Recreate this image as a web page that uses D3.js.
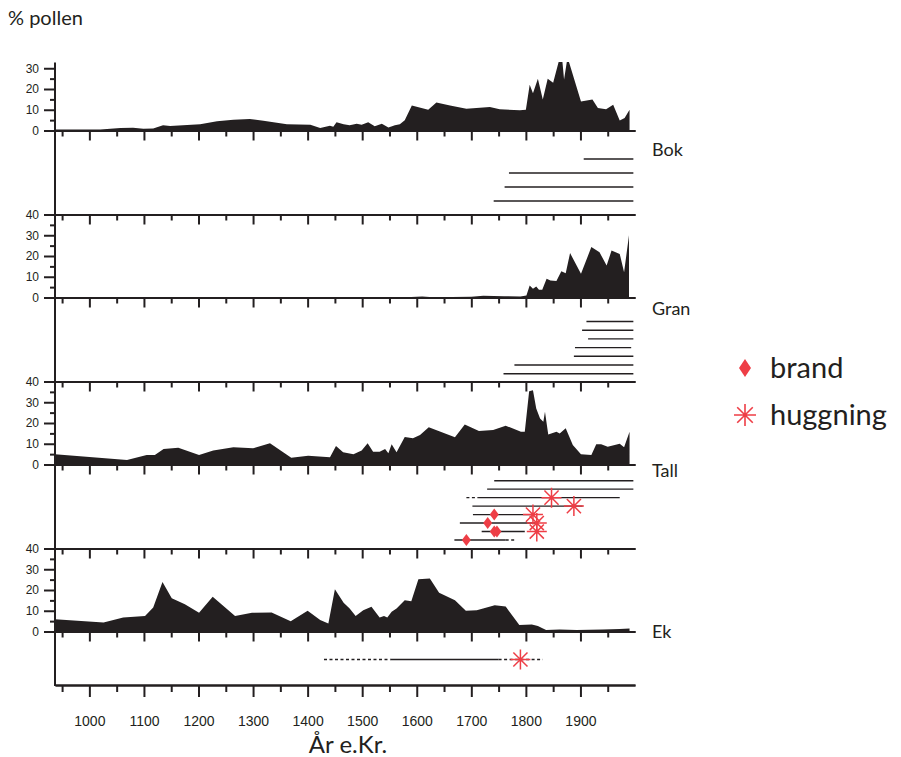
<!DOCTYPE html>
<html lang="sv">
<head>
<meta charset="UTF-8">
<title>Pollen och händelser</title>
<script src="https://d3js.org/d3.v7.min.js"></script>
<style>
  html, body { margin: 0; padding: 0; background: #fff; }
  svg { display: block; font-family: Lato, "Open Sans", sans-serif; }
  .axis path, .axis line { stroke: #231f20; stroke-width: 2; }
  .axis text { fill: #231f20; }
</style>
</head>
<body>
<svg id="chart" width="901" height="757"></svg>
<script>
// pollenkurvor: [år, procent]
const bokPollen = [[937,0.5],[1020,0.5],[1057,1.2],[1080,1.3],[1099,0.8],[1117,1],[1135,2.5],[1148,2.2],[1203,3],[1234,4.5],[1264,5.2],[1294,5.5],[1319,4.7],[1362,3],[1405,2.8],[1423,1.2],[1441,2.3],[1447,1.8],[1453,4],[1466,3],[1477,2.5],[1490,3.3],[1499,2.8],[1511,4],[1523,2],[1536,3.3],[1548,1.5],[1560,2.5],[1569,3],[1578,5],[1591,12],[1621,10],[1636,13.5],[1661,12],[1691,10.5],[1734,11.3],[1752,10.3],[1789,9.7],[1800,10],[1807,22],[1813,18],[1822,25],[1831,15],[1840,25],[1850,23],[1860,33],[1867,33],[1870,24.6],[1875,33],[1879,33],[1901,14],[1922,15],[1932,10.8],[1947,10.3],[1960,12.4],[1972,4.8],[1981,6],[1990,10]];
const granPollen = [[937,0],[1100,0.1],[1250,0.3],[1290,0.3],[1330,0.1],[1590,0.2],[1610,0.5],[1630,0.1],[1700,0.4],[1722,0.8],[1760,0.6],[1790,0.5],[1801,1],[1807,5.8],[1813,4.2],[1819,5.3],[1824,3.7],[1830,3.7],[1838,9],[1845,8.2],[1856,8],[1865,12.7],[1873,11.7],[1881,21.4],[1901,11.4],[1920,24.3],[1935,21.8],[1948,15.4],[1957,22.6],[1972,21],[1980,12.2],[1989,30]];
const tallPollen = [[937,5],[1069,2.2],[1105,4.6],[1120,4.6],[1136,7.5],[1163,8.1],[1201,4.6],[1227,6.8],[1264,8.3],[1300,7.8],[1331,10.2],[1370,3.3],[1401,4.2],[1441,3.5],[1452,8.9],[1465,5.9],[1484,4.9],[1499,6.8],[1510,10.2],[1520,6.2],[1532,6.2],[1542,7.5],[1548,5.4],[1554,9.7],[1563,5.9],[1578,13.2],[1593,12.6],[1606,14.2],[1622,17.9],[1646,15.5],[1670,13.1],[1688,19.3],[1714,16.1],[1740,16.6],[1763,18.7],[1791,15.8],[1798,15.8],[1806,35.3],[1813,35.8],[1819,27],[1826,22.2],[1832,20.6],[1835,25.4],[1841,14.5],[1856,15.8],[1862,15],[1873,17.5],[1886,9.4],[1901,4.9],[1920,4.6],[1929,9.7],[1938,9.7],[1950,8.6],[1972,10],[1980,8.3],[1990,15.8]];
const ekPollen = [[937,5.9],[1026,4.3],[1062,6.7],[1102,7.5],[1117,11.6],[1134,23.9],[1151,16],[1175,13.1],[1201,9],[1226,16.7],[1267,7.5],[1298,9],[1334,9.2],[1369,5],[1400,10],[1423,5.5],[1438,3.9],[1450,20.4],[1466,13.8],[1477,11.1],[1488,7.5],[1502,10.3],[1517,11.9],[1532,6.7],[1540,7.5],[1546,6.7],[1554,9.5],[1563,11.1],[1578,15.1],[1590,14.6],[1603,25.2],[1624,25.6],[1641,18.7],[1670,15.1],[1690,10],[1710,10.3],[1743,12.7],[1763,12],[1788,3.1],[1811,3.4],[1822,2.6],[1837,0.7],[1862,1],[1893,0.7],[1941,1],[1972,1.2],[1990,1.4]];

// tidsintervall (rad för rad uppifrån)
const bokLines = [{from:1906,to:1997},{from:1769,to:1997},{from:1761,to:1997},{from:1741,to:1997}];
const granLines = [{from:1911,to:1997},{from:1903,to:1997},{from:1914,to:1997},{from:1890,to:1993},{from:1888,to:1997},{from:1779,to:1997},{from:1759,to:1997}];
const tallLines = [
  {from:1742,to:1997},
  {from:1729,to:1997},
  {from:1714,to:1972,dashFrom:1691},
  {from:1702,to:1904},
  {from:1703,to:1813},
  {from:1679,to:1820},
  {from:1719,to:1798},
  {from:1669,to:1763,dashTo:1780}
];
const ekLines = [{from:1552,to:1750,dashFrom:1430,dashTo:1831}];

const tallBrand = [{row:4,year:1742},{row:5,year:1730},{row:6,year:1742},{row:6,year:1747},{row:7,year:1691}];
const tallHuggning = [{row:2,year:1847},{row:3,year:1888},{row:4,year:1813},{row:5,year:1820},{row:6,year:1820}];
const ekHuggning = [{row:0,year:1790}];

const xTickLabels = [1000,1100,1200,1300,1400,1500,1600,1700,1800,1900];

const BLACK = '#231f20', RED = '#ee3e46';
const svg = d3.select('#chart');

const x = d3.scaleLinear().domain([937, 2000]).range([55, 635]);
const PANEL_H = 83;

const panels = [
  {name:'Bok',  data:bokPollen,  base:130.5, top:33, labels:[0,10,20,30],    minor:[5,15,25],
   lines:bokLines,  rows:[159,201],   labelY:150},
  {name:'Gran', data:granPollen, base:297.5, top:40, labels:[0,10,20,30,40], minor:[5,15,25,35],
   lines:granLines, rows:[321.5,373.7], labelY:309},
  {name:'Tall', data:tallPollen, base:464.5, top:40, labels:[0,10,20,30,40], minor:[5,15,25,35],
   lines:tallLines, rows:[480.7,540], labelY:471, brand:tallBrand, hugg:tallHuggning},
  {name:'Ek',   data:ekPollen,   base:631.5, top:40, labels:[0,10,20,30,40], minor:[5,15,25,35],
   lines:ekLines,   rows:[659.5,659.5], labelY:632, hugg:ekHuggning}
];

const majorYears = d3.range(1000, 2000, 100);
const minorYears = d3.range(950, 2000, 100);

function hLine(yPos, bigTick, smallTick) {
  const g = svg.append('g').attr('class', 'axis').attr('transform', `translate(0,${yPos})`);
  g.append('g').call(d3.axisBottom(x).tickValues(minorYears).tickSize(smallTick).tickSizeOuter(0).tickFormat(''));
  g.append('g').call(d3.axisBottom(x).tickValues(majorYears).tickSize(bigTick).tickSizeOuter(0).tickFormat(''));
  return g;
}

function diamond(w, h) {
  return `M0,${-h}L${w},0L0,${h}L${-w},0Z`;
}
function asterisk(r) {
  const p = d3.path();
  [0, 45, 90, 135].forEach(a => {
    const t = a * Math.PI / 180;
    p.moveTo(-r * Math.cos(t), -r * Math.sin(t));
    p.lineTo(r * Math.cos(t), r * Math.sin(t));
  });
  return p.toString();
}

panels.forEach(p => {
  const y = d3.scaleLinear().domain([0, 40]).range([p.base, p.base - PANEL_H]);

  const area = d3.area()
    .x(d => x(d[0]))
    .y0(y(0))
    .y1(d => y(d[1]));
  svg.append('path').datum(p.data).attr('d', area).attr('fill', BLACK);

  // y-axel
  const ya = svg.append('g').attr('class', 'axis').attr('transform', `translate(${x.range()[0]},0)`);
  ya.append('g').call(d3.axisLeft(y).tickValues(p.minor).tickSize(5).tickFormat(''))
    .call(g => g.select('.domain').remove());
  ya.append('g').call(d3.axisLeft(y).tickValues(p.labels).tickSize(11).tickPadding(5))
    .call(g => g.select('.domain').remove())
    .selectAll('text').attr('font-size', 12);

  if (p.top === 40) hLine(y(40), 10, 6);
  hLine(y(0), 10, 6);

  svg.append('text').attr('x', 652).attr('y', p.labelY).attr('dy', '0.35em')
    .attr('font-size', 18).attr('fill', BLACK).text(p.name);

  // intervall-linjer
  const row = d3.scalePoint().domain(d3.range(p.lines.length)).range(p.rows);
  const lg = svg.append('g').attr('stroke', BLACK).attr('stroke-width', 1.4).attr('fill', 'none');
  p.lines.forEach((l, i) => {
    lg.append('line').attr('x1', x(l.from)).attr('x2', x(l.to)).attr('y1', row(i)).attr('y2', row(i));
    if (l.dashFrom) lg.append('line').attr('x1', x(l.dashFrom)).attr('x2', x(l.from))
      .attr('y1', row(i)).attr('y2', row(i)).attr('stroke-dasharray', '3,2.5');
    if (l.dashTo) lg.append('line').attr('x1', x(l.to)).attr('x2', x(l.dashTo))
      .attr('y1', row(i)).attr('y2', row(i)).attr('stroke-dasharray', '3,2.5');
  });

  if (p.brand) svg.append('g').selectAll('path').data(p.brand).join('path')
    .attr('d', diamond(4.5, 6)).attr('fill', RED)
    .attr('transform', d => `translate(${x(d.year)},${row(d.row)})`);
  if (p.hugg) svg.append('g').selectAll('path').data(p.hugg).join('path')
    .attr('d', asterisk(10)).attr('stroke', RED).attr('stroke-width', 1.5).attr('fill', 'none')
    .attr('transform', d => `translate(${x(d.year)},${row(d.row)})`);
});

// lång vänsteraxel
svg.append('line').attr('x1', x.range()[0]).attr('x2', x.range()[0]).attr('y1', 62.5).attr('y2', 686)
  .attr('stroke', BLACK).attr('stroke-width', 2);

// x-axel
const xa = svg.append('g').attr('class', 'axis').attr('transform', 'translate(0,685)');
xa.append('g').call(d3.axisBottom(x).tickValues(minorYears).tickSize(7).tickSizeOuter(0).tickFormat(''));
xa.append('g').call(d3.axisBottom(x).tickValues(xTickLabels).tickSize(12).tickSizeOuter(0).tickPadding(19)
  .tickFormat(d3.format('d')))
  .selectAll('text').attr('font-size', 14);

svg.append('text').attr('x', 348).attr('y', 753).attr('text-anchor', 'middle')
  .attr('font-size', 24).attr('fill', BLACK).text('År e.Kr.');
svg.append('text').attr('x', 8).attr('y', 18).attr('dy', '0.35em')
  .attr('font-size', 20).attr('fill', BLACK).text('% pollen');

// legend
const leg = svg.append('g');
leg.append('path').attr('d', diamond(6, 9)).attr('fill', RED).attr('transform', 'translate(745,368)');
leg.append('text').attr('x', 770).attr('y', 368).attr('dy', '0.35em').attr('font-size', 29)
  .attr('fill', BLACK).text('brand');
leg.append('path').attr('d', asterisk(11)).attr('stroke', RED).attr('stroke-width', 1.6).attr('fill', 'none')
  .attr('transform', 'translate(745,415)');
leg.append('text').attr('x', 770).attr('y', 415).attr('dy', '0.35em').attr('font-size', 29)
  .attr('fill', BLACK).text('huggning');
</script>
</body>
</html>
